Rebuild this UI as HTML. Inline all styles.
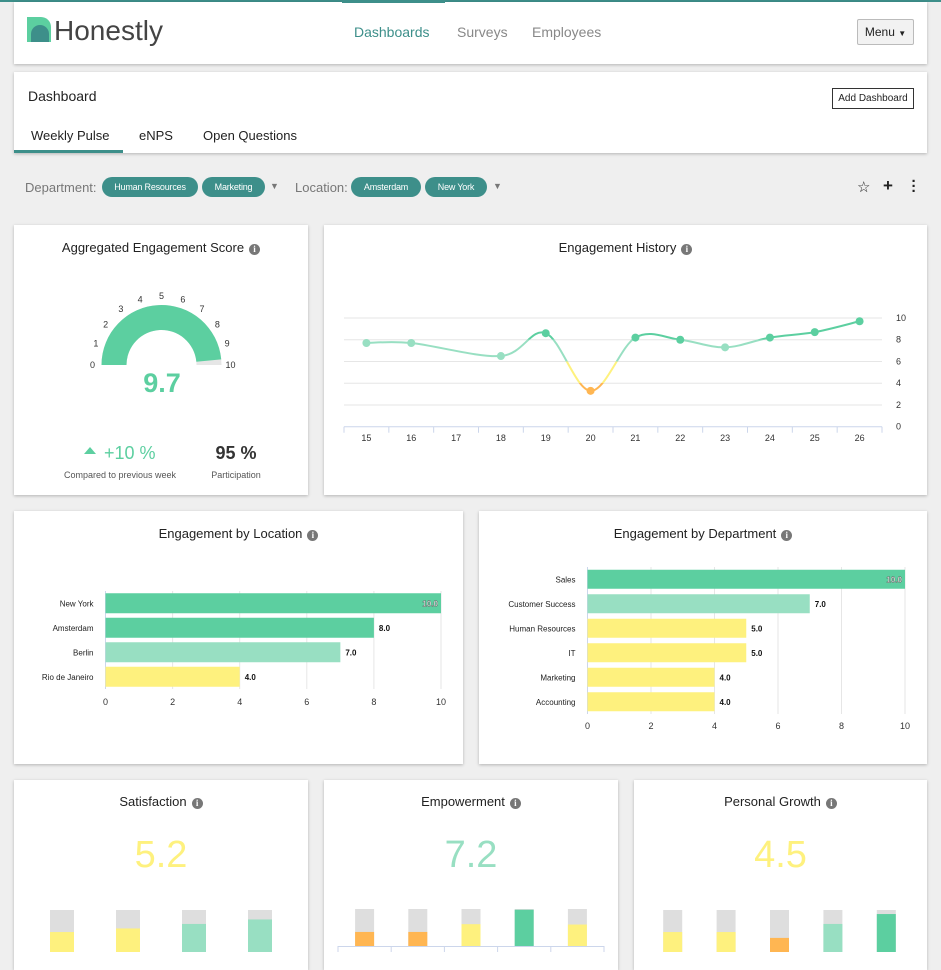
<!DOCTYPE html>
<html><head><meta charset="utf-8">
<style>
*{box-sizing:border-box;margin:0;padding:0}
body{width:941px;height:952px;overflow:hidden;background:#efefef;font-family:"Liberation Sans",sans-serif;color:#333;position:relative}
.abs{position:absolute}
.card{position:absolute;background:#fff;box-shadow:0 1px 3px rgba(0,0,0,.25)}
.title{position:absolute;left:0;right:0;text-align:center;font-size:13px;color:#222}
.info{display:inline-block;width:11px;height:11px;border-radius:50%;background:#777;color:#fff;font-size:9px;line-height:11px;text-align:center;font-weight:bold;font-family:"Liberation Serif",serif;margin-left:5px;vertical-align:0px}
.chip{position:absolute;top:177px;height:20px;border-radius:10px;background:#3d8f8a;color:#fff;font-size:9px;line-height:20px;text-align:center;letter-spacing:-.2px}
.nav{position:absolute;top:24px;font-size:14px;color:#888}
</style></head><body>
<div class="abs" style="left:0;top:0;width:941px;height:2px;background:#3d8f8a"></div>
<div class="card" style="left:14px;top:2px;width:913px;height:62px">
  <div class="abs" style="left:328px;top:-2px;width:103px;height:3px;background:#3d8f8a"></div>
</div>
<svg class="abs" style="left:27px;top:17px" width="24" height="25" viewBox="0 0 24 25">
  <path d="M0 0H14A10 10 0 0 1 24 10V25H0Z" fill="#5ccfa0"/>
  <path d="M4 25V17A9 9 0 0 1 22 17V25Z" fill="#3d8f8a"/>
</svg>
<div class="abs" style="left:54px;top:15px;font-size:28px;color:#444">Honestly</div>
<div class="nav" style="left:354px;color:#3d8f8a">Dashboards</div>
<div class="nav" style="left:457px">Surveys</div>
<div class="nav" style="left:532px">Employees</div>
<div class="abs" style="left:857px;top:19px;width:57px;height:26px;border:1px solid #bbb;background:#f2f2f2;border-radius:2px;font-size:12px;line-height:24px;text-align:center;color:#222">Menu <span style="font-size:8px">▼</span></div>

<div class="card" style="left:14px;top:72px;width:913px;height:81px"></div>
<div class="abs" style="left:28px;top:88px;font-size:14px;color:#222">Dashboard</div>
<div class="abs" style="left:832px;top:88px;width:82px;height:21px;border:1px solid #333;font-size:10px;line-height:19px;text-align:center;color:#222;background:#fff">Add Dashboard</div>
<div class="abs" style="left:31px;top:128px;font-size:13px;color:#222">Weekly Pulse</div>
<div class="abs" style="left:14px;top:150px;width:109px;height:3px;background:#3d8f8a"></div>
<div class="abs" style="left:139px;top:128px;font-size:13px;color:#222">eNPS</div>
<div class="abs" style="left:203px;top:128px;font-size:13px;color:#222">Open Questions</div>

<div class="abs" style="left:25px;top:180px;font-size:13px;color:#777">Department:</div>
<div class="chip" style="left:102px;width:96px">Human Resources</div>
<div class="chip" style="left:202px;width:63px">Marketing</div>
<div class="abs" style="left:270px;top:181px;font-size:9px;color:#777">▼</div>
<div class="abs" style="left:295px;top:180px;font-size:13px;color:#777">Location:</div>
<div class="chip" style="left:351px;width:70px">Amsterdam</div>
<div class="chip" style="left:425px;width:62px">New York</div>
<div class="abs" style="left:493px;top:181px;font-size:9px;color:#777">▼</div>
<div class="abs" style="left:857px;top:178px;font-size:15px;color:#222">☆</div>
<div class="abs" style="left:883px;top:176px;font-size:17px;font-weight:bold;color:#222">+</div>
<div class="abs" style="left:911px;top:179px;font-size:15px;font-weight:bold;color:#222;line-height:5px;width:6px;text-align:center">·<br>·<br>·</div>

<div class="card" style="left:14px;top:225px;width:294px;height:270px"><div class="title" style="top:15px">Aggregated Engagement Score<span class="info">i</span></div></div>
<div class="card" style="left:324px;top:225px;width:603px;height:270px"><div class="title" style="top:15px">Engagement History<span class="info">i</span></div></div>
<div class="card" style="left:14px;top:511px;width:449px;height:253px"><div class="title" style="top:15px">Engagement by Location<span class="info">i</span></div></div>
<div class="card" style="left:479px;top:511px;width:448px;height:253px"><div class="title" style="top:15px">Engagement by Department<span class="info">i</span></div></div>
<div class="card" style="left:14px;top:780px;width:294px;height:190px"><div class="title" style="top:14px">Satisfaction<span class="info">i</span></div></div>
<div class="card" style="left:324px;top:780px;width:294px;height:190px"><div class="title" style="top:14px">Empowerment<span class="info">i</span></div></div>
<div class="card" style="left:634px;top:780px;width:293px;height:190px"><div class="title" style="top:14px">Personal Growth<span class="info">i</span></div></div>

<div class="abs" style="left:112px;top:368px;width:100px;text-align:center;font-size:27px;font-weight:bold;color:#5ccfa0">9.7</div>
<div class="abs" style="left:84px;top:447px;width:0;height:0;border-left:6px solid transparent;border-right:6px solid transparent;border-bottom:7px solid #5ccfa0"></div>
<div class="abs" style="left:104px;top:443px;font-size:18px;color:#5ccfa0">+10 %</div>
<div class="abs" style="left:55px;top:470px;width:130px;text-align:center;font-size:9px;color:#555">Compared to previous week</div>
<div class="abs" style="left:196px;top:443px;width:80px;text-align:center;font-size:18px;font-weight:bold;color:#333">95 %</div>
<div class="abs" style="left:196px;top:470px;width:80px;text-align:center;font-size:9px;color:#555">Participation</div>

<div class="abs" style="left:14px;top:834px;width:294px;text-align:center;font-size:38px;color:#fef17e">5.2</div>
<div class="abs" style="left:324px;top:834px;width:294px;text-align:center;font-size:38px;color:#98dfc2">7.2</div>
<div class="abs" style="left:634px;top:834px;width:293px;text-align:center;font-size:38px;color:#fef17e">4.5</div>

<svg id="charts" class="abs" style="left:0;top:0" width="941" height="952"></svg>

<script>
// Engagement history
const histWeeks = ["15","16","17","18","19","20","21","22","23","24","25","26"];
const histValues = [7.7,7.7,null,6.5,8.6,3.3,8.2,8.0,7.3,8.2,8.7,9.7];
const histTicks = [0,2,4,6,8,10];
// Location
const locNames = ["New York","Amsterdam","Berlin","Rio de Janeiro"];
const locValues = [10,8,7,4];
// Department
const depNames = ["Sales","Customer Success","Human Resources","IT","Marketing","Accounting"];
const depValues = [10,7,5,5,4,4];
const barTicks = [0,2,4,6,8,10];
// Gauge
const gaugeValue = 9.7;
const gaugeTicks = [0,1,2,3,4,5,6,7,8,9,10];
// Mini bar cards
const satValues = [5.1,5.9,6.9,7.9];
const empValues = [3.8,3.8,5.9,9.8,5.8];
const growthValues = [5.1,5.1,3.8,6.9,9.1];

const svg = document.getElementById('charts');
const NS = 'http://www.w3.org/2000/svg';
function mk(tag, attrs, parent){const e=document.createElementNS(NS,tag);for(const k in attrs)e.setAttribute(k,attrs[k]);(parent||svg).appendChild(e);return e;}
function col(v){return v>=8?'#5ccfa0':v>=6?'#98dfc2':v>=4?'#fef17e':'#ffb652';}
const FONT='"Liberation Sans",sans-serif';

// ---- Gauge
(function(){
  const cx=161.5, cy=365, R=60, r=35;
  function pt(a,rad){return [cx-rad*Math.cos(a), cy-rad*Math.sin(a)];}
  function arc(v0,v1,fill,name){
    const a0=v0/10*Math.PI, a1=v1/10*Math.PI;
    const p0=pt(a0,R),p1=pt(a1,R),p2=pt(a1,r),p3=pt(a0,r);
    const e=mk('path',{d:`M${p0}A${R} ${R} 0 0 1 ${p1}L${p2}A${r} ${r} 0 0 0 ${p3}Z`,fill:fill});
    
    
  }
  arc(0,10,'#e6e6e6','gauge-track');
  arc(0,gaugeValue,'#5ccfa0','gauge-fill');
  gaugeTicks.forEach(t=>{
    const p=pt(t/10*Math.PI,69);
    const e=mk('text',{x:p[0],y:p[1]+3,'text-anchor':'middle','font-size':9,fill:'#333','font-family':FONT});
    e.textContent=t;
    
    
  });
})();

// ---- History line
(function(){
  const x0=344,x1=882,yTop=318,yBot=426.7;
  const bw=(x1-x0)/histWeeks.length;
  const X=i=>x0+bw*(i+0.5), Y=v=>yBot-(yBot-yTop)*v/10;
  histTicks.forEach(t=>{
    const g=mk('line',{x1:x0,x2:x1,y1:Y(t),y2:Y(t),stroke:t===0?'#ccd6eb':'#e6e6e6','stroke-width':1});
    
    
    const l=mk('text',{x:896,y:Y(t)+3,'text-anchor':'start','font-size':9,fill:'#333','font-family':FONT});
    l.textContent=t;
    
    
  });
  for(let i=0;i<=histWeeks.length;i++){
    const tk=mk('line',{x1:x0+bw*i,x2:x0+bw*i,y1:Y(0),y2:Y(0)+6,stroke:'#ccd6eb'});
    
    
  }
  histWeeks.forEach((w,i)=>{
    const l=mk('text',{x:X(i),y:441,'text-anchor':'middle','font-size':9,fill:'#333','font-family':FONT});
    l.textContent=w;
    
    
  });
  const defs=mk('defs',{});
  const lg=mk('linearGradient',{id:'hg',gradientUnits:'userSpaceOnUse',x1:0,x2:0,y1:Y(10),y2:Y(0)},defs);
  [[10,'#5ccfa0'],[8,'#5ccfa0'],[8,'#98dfc2'],[6,'#98dfc2'],[6,'#fef17e'],[4,'#fef17e'],[4,'#ffb652'],[0,'#ffb652']].forEach(s=>{
    mk('stop',{offset:(10-s[0])/10,'stop-color':s[1]},lg);
  });
  const pts=[];histValues.forEach((v,i)=>{if(v!==null)pts.push([X(i),Y(v)]);});
  let d=`M${pts[0]}`;
  for(let i=0;i<pts.length-1;i++){
    const p0=pts[i-1]||pts[i],p1=pts[i],p2=pts[i+1],p3=pts[i+2]||p2,t=6;
    const c1=[p1[0]+(p2[0]-p0[0])/t,p1[1]+(p2[1]-p0[1])/t];
    const c2=[p2[0]-(p3[0]-p1[0])/t,p2[1]-(p3[1]-p1[1])/t];
    d+=`C${c1} ${c2} ${p2}`;
  }
  const line=mk('path',{d:d,fill:'none',stroke:'url(#hg)','stroke-width':2});
  
  
  histValues.forEach((v,i)=>{
    if(v===null)return;
    const c=mk('circle',{cx:X(i),cy:Y(v),r:4,fill:col(v)});
    
    
  });
})();

// ---- Horizontal bar charts
function hbar(names,vals,x0,x1,yTop,band,bh,axisY,prefix){
  const X=v=>x0+(x1-x0)*v/10;
  const yBot=yTop+band*names.length;
  barTicks.forEach(t=>{
    const g=mk('line',{x1:X(t),x2:X(t),y1:yTop,y2:yBot,stroke:t===0?'#ccd6eb':'#e6e6e6'});
    
    
    const l=mk('text',{x:X(t),y:axisY,'text-anchor':'middle','font-size':9,fill:'#333','font-family':FONT});
    l.textContent=t;
    
    
  });
  names.forEach((n,i)=>{
    const yc=yTop+band*(i+0.5);
    const l=mk('text',{x:x0-12,y:yc+3,'text-anchor':'end','font-size':8,fill:'#222','font-family':FONT});
    l.textContent=n;
    
    
    const b=mk('rect',{x:x0,y:yc-bh/2,width:X(vals[i])-x0,height:bh,fill:col(vals[i])});
    
    
    const inside=vals[i]>=9.5;
    const v=mk('text',{x:inside?X(vals[i])-3:X(vals[i])+5,y:yc+3,'text-anchor':inside?'end':'start','font-size':8,'font-weight':'bold',fill:inside?'#fff':'#111','font-family':FONT});
    if(inside){v.setAttribute('stroke','#555');v.setAttribute('stroke-width','0.4');}
    v.textContent=vals[i].toFixed(1);
    
    
  });
}
hbar(locNames,locValues,105.5,441,591,24.5,20,705,'location');
hbar(depNames,depValues,587.5,905,567,24.5,19,729,'department');

// ---- Mini stacked bars
function mini(vals,bx0,bx1,bottom,scale,bw,prefix,axis){
  const band=(bx1-bx0)/vals.length;
  vals.forEach((v,i)=>{
    const cx=bx0+band*(i+0.5);
    const g=mk('rect',{x:cx-bw/2,y:bottom-10*scale,width:bw,height:10*scale,fill:'#dedede'});
    
    
    const b=mk('rect',{x:cx-bw/2,y:bottom-v*scale,width:bw,height:v*scale,fill:col(v)});
    
    
  });
  if(axis){
    const a=mk('line',{x1:bx0,x2:bx1,y1:bottom+0.5,y2:bottom+0.5,stroke:'#ccd6eb'});
    
    
    for(let i=0;i<=vals.length;i++){
      const t=mk('line',{x1:bx0+band*i,x2:bx0+band*i,y1:bottom,y2:bottom+10,stroke:'#ccd6eb'});
      
      
    }
  }
}
mini(satValues,29,293,955,4.5,24,'satisfaction',false);
mini(empValues,338,604,946,3.7,19,'empowerment',true);
mini(growthValues,646,913,955,4.5,19,'growth',false);
</script>
</body></html>
